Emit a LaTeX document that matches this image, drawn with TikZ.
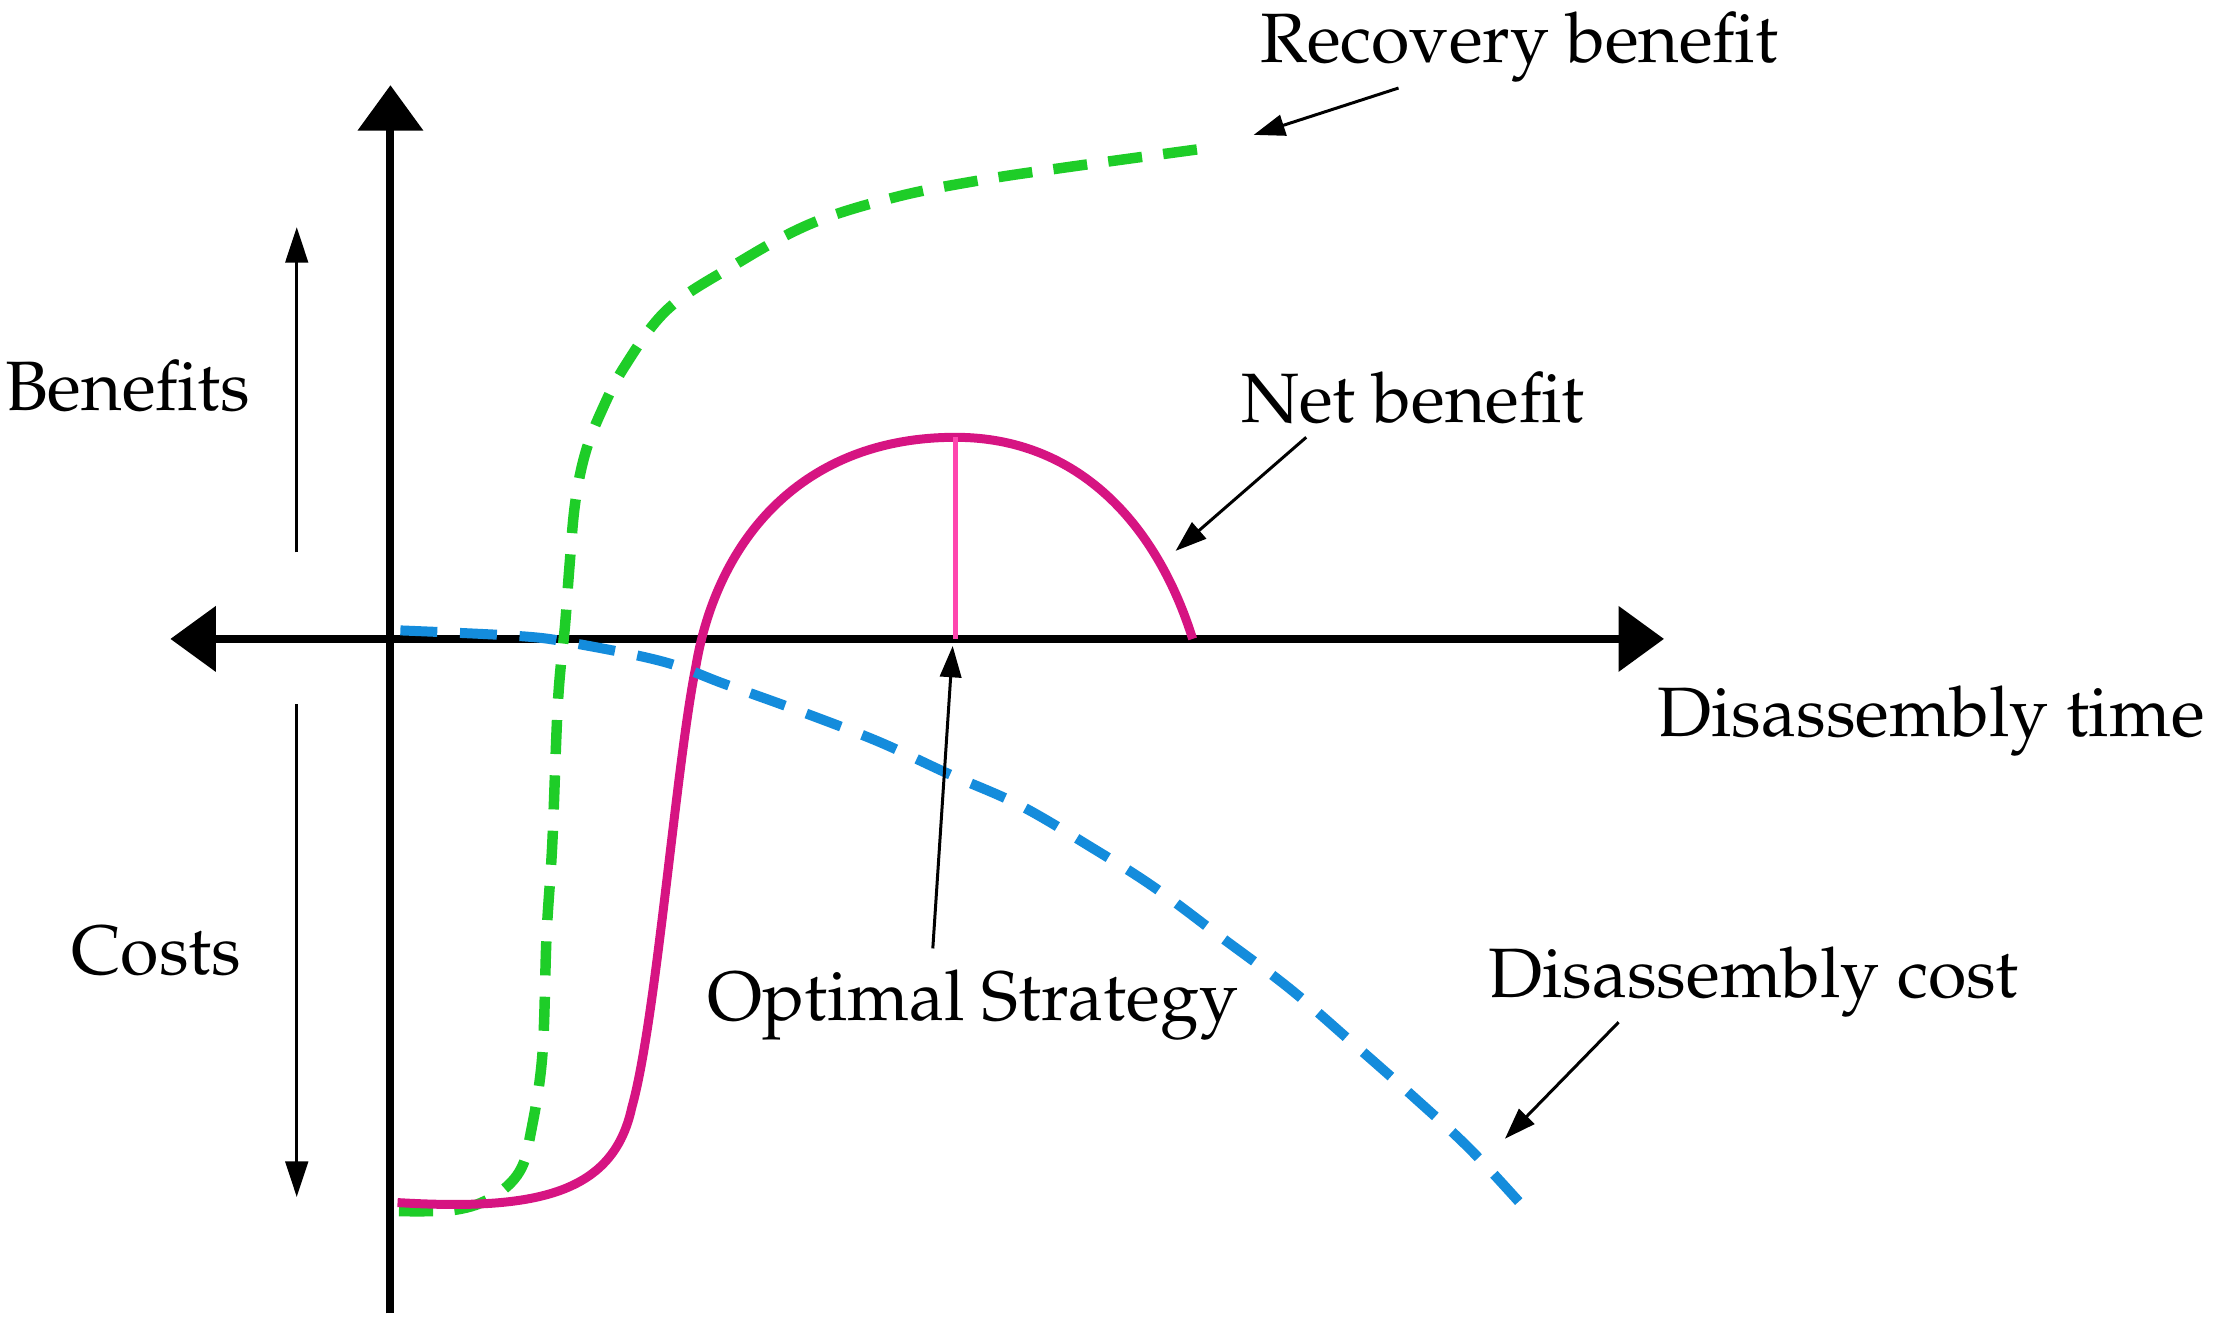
\documentclass[tikz,border=0pt]{standalone}
\usepackage[T1]{fontenc}
\usepackage{mathpazo}
\usepackage{tikz}
\usetikzlibrary{arrows.meta}
\usetikzlibrary{positioning}

\definecolor{hijau}{RGB}{30,205,40}
\definecolor{ungu}{RGB}{214,20,130}
\definecolor{merahmuda}{RGB}{255,70,175}
\definecolor{biru}{RGB}{20,140,220}

\tikzset{
	teks/.style={font=\fontsize{14}{17}\selectfont, inner sep=0pt},
	sumbu/.style={line width=1.6pt},
	ujung/.style={-{Triangle[width=0.45cm,length=0.32cm]}},
	panah/.style={line width=0.5pt, -{Triangle[width=0.16cm,length=0.25cm]}},
	panahlabel/.style={line width=0.6pt, -{Triangle[width=0.15cm,length=0.22cm]}}
}

\begin{document}
\begin{tikzpicture}[x=0.01cm, y=-0.01cm]
	\useasboundingbox (0,0) rectangle (1565,945);
	
	%% SUMBU %%
	% Deklarasikan titik-titik sumbu
	\coordinate (O) at (275,450);
	\coordinate (kiri) at (120,450);
	\coordinate (kanan) at (1172,450);
	\coordinate (atas) at (275,60);
	\coordinate (bawah) at (275,925);
	
	% Gambar sumbu horizontal dan vertikal
	\draw[sumbu, {Triangle[width=0.45cm,length=0.32cm]}-{Triangle[width=0.45cm,length=0.32cm]}] (kiri) -- (kanan);
	\draw[sumbu, ujung] (bawah) -- (atas);
	
	%% LABEL SUMBU %%
	\node[teks] (benefits) at (90,272) {Benefits};
	\node[teks] (costs) at (110,670) {Costs};
	\node[teks] (waktu) at (1360,508) {Disassembly time};
	
	% Panah manfaat dan biaya
	\coordinate (b1) at (209,389);
	\coordinate (b2) at (209,160);
	\coordinate (c1) at (209,496);
	\coordinate (c2) at (209,843);
	\draw[panah] (b1) -- (b2);
	\draw[panah] (c1) -- (c2);
	
	%% KURVA %%
	% Kurva recovery benefit (hijau putus-putus)
	\draw[hijau, line width=2.1pt, dash pattern=on 0.24cm off 0.15cm] plot[smooth, tension=0.6] coordinates {
		(281,853) (321,852) (347,843) (366,825) (374,797) (382,743) (385,658) (389,594)
		(393,494) (398,440) (401,400) (405,355) (412,320) (423,291) (440,258) (470,218)
		(515,188) (570,158) (630,139) (690,127) (750,118) (845,105)};
	
	% Kurva net benefit (ungu)
	\coordinate (puncak) at (673,308);
	\draw[ungu, line width=1.8pt] (280,847) .. controls (380,853) and (432,840) .. (445,780)
		.. controls (462,720) and (476,540) .. (490,470)
		.. controls (505,380) and (565,308) .. (puncak)
		.. controls (760,308) and (815,370) .. (840,450);
	
	% Garis strategi optimal
	\coordinate (optimal) at (673,450);
	\draw[merahmuda, line width=0.9pt] (puncak) -- (optimal);
	
	% Kurva disassembly cost (biru putus-putus)
	\draw[biru, line width=2pt, dash pattern=on 0.26cm off 0.16cm] plot[smooth, tension=0.6] coordinates {
		(282,444) (366,448) (404,453) (467,466) (511,482) (561,500) (618,522) (668,545)
		(718,567) (769,597) (813,625) (860,660) (908,696) (952,734) (995,772) (1035,809) (1073,850)};
	
	%% LABEL KURVA %%
	\node[teks] (recovery) at (1070,33) {Recovery benefit};
	\node[teks] (net) at (995,280) {Net benefit};
	\node[teks] (strategi) at (685,708) {Optimal Strategy};
	\node[teks] (biaya) at (1235,692) {Disassembly cost};
	
	% Panah dari label ke kurva
	\coordinate (r1) at (985,62);
	\coordinate (r2) at (883,95);
	\coordinate (n1) at (920,308);
	\coordinate (n2) at (828,388);
	\coordinate (s1) at (657,668);
	\coordinate (s2) at (671,455);
	\coordinate (d1) at (1140,720);
	\coordinate (d2) at (1060,802);
	\draw[panahlabel] (r1) -- (r2);
	\draw[panahlabel] (n1) -- (n2);
	\draw[panahlabel] (s1) -- (s2);
	\draw[panahlabel] (d1) -- (d2);
\end{tikzpicture}
\end{document}
